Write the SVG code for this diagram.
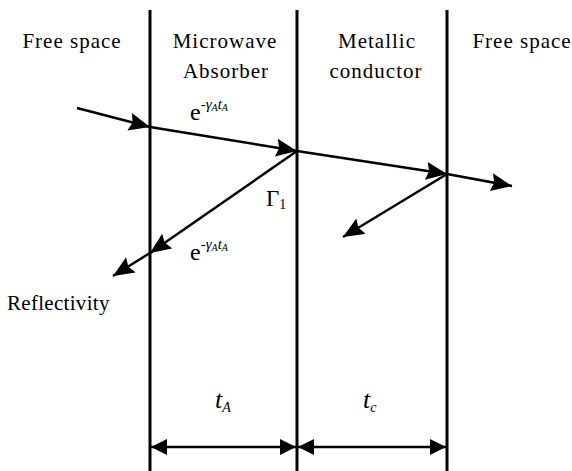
<svg xmlns="http://www.w3.org/2000/svg" width="572" height="471" viewBox="0 0 572 471">
<style>
text{font-family:'Liberation Serif','Times New Roman','DejaVu Serif',serif;fill:#000}
.lbl{font-size:21px;letter-spacing:1px}
.ray{stroke:#000;stroke-width:2.5;fill:none}
.wall{stroke:#000;stroke-width:3}
</style>
<defs>
<marker id="ah" markerUnits="userSpaceOnUse" markerWidth="24" markerHeight="20" refX="21" refY="9" orient="auto">
<path d="M0,0 L21,9 L0,18 L3,9 Z" fill="#000"/>
</marker>
<marker id="ahs" markerUnits="userSpaceOnUse" markerWidth="20" markerHeight="18" refX="16" refY="8" orient="auto-start-reverse">
<path d="M0,0 L16,8 L0,16 Z" fill="#000"/>
</marker>
</defs>
<rect width="572" height="471" fill="#fff"/>
<g id="walls">
<line class="wall" x1="150" y1="10" x2="150" y2="471"/>
<line class="wall" x1="297" y1="10" x2="297" y2="471"/>
<line class="wall" x1="447" y1="10" x2="447" y2="471"/>
</g>
<g id="region-free-left"><text class="lbl" x="72" y="48" text-anchor="middle">Free space</text></g>
<g id="region-absorber"><text class="lbl" x="225" y="48" text-anchor="middle">Microwave</text><text class="lbl" x="226" y="78" text-anchor="middle">Absorber</text></g>
<g id="region-metal"><text class="lbl" x="377" y="48" text-anchor="middle">Metallic</text><text class="lbl" x="376" y="78" text-anchor="middle">conductor</text></g>
<g id="region-free-right"><text class="lbl" x="522" y="48" text-anchor="middle">Free space</text></g>
<g id="label-reflectivity"><text class="lbl" x="7" y="310" style="letter-spacing:0.3px">Reflectivity</text></g>
<g id="label-att1"><text x="190" y="120" font-size="24">e<tspan font-size="15" font-style="italic" dy="-11">-γ<tspan font-size="10" dy="2">A</tspan><tspan dy="-2" font-size="15">t</tspan><tspan font-size="10" dy="2">A</tspan></tspan></text></g>
<g id="label-att2"><text x="190" y="260" font-size="24">e<tspan font-size="15" font-style="italic" dy="-11">-γ<tspan font-size="10" dy="2">A</tspan><tspan dy="-2" font-size="15">t</tspan><tspan font-size="10" dy="2">A</tspan></tspan></text></g>
<g id="label-gamma"><text x="266" y="206" font-size="23">Γ<tspan font-size="14" dy="3">1</tspan></text></g>
<g id="label-tA"><text x="215" y="408" font-size="26" font-style="italic">t<tspan font-size="14" dy="4">A</tspan></text></g>
<g id="label-tc"><text x="363" y="408" font-size="26" font-style="italic">t<tspan font-size="14" dy="4">c</tspan></text></g>
<g id="connectors">
<line class="ray" x1="77" y1="108" x2="150" y2="127" marker-end="url(#ah)"/>
<line class="ray" x1="150" y1="127" x2="297" y2="151" marker-end="url(#ah)"/>
<line class="ray" x1="297" y1="151" x2="447" y2="174" marker-end="url(#ah)"/>
<line class="ray" x1="447" y1="174" x2="512" y2="186" marker-end="url(#ah)"/>
<line class="ray" x1="297" y1="151" x2="150" y2="253" marker-end="url(#ah)"/>
<line class="ray" x1="150" y1="253" x2="113" y2="276" marker-end="url(#ah)"/>
<line class="ray" x1="447" y1="174" x2="343" y2="237" marker-end="url(#ah)"/>
<line class="ray" x1="151" y1="447" x2="296" y2="447" marker-start="url(#ahs)" marker-end="url(#ahs)"/>
<line class="ray" x1="298" y1="447" x2="446" y2="447" marker-start="url(#ahs)" marker-end="url(#ahs)"/>
</g>
</svg>
